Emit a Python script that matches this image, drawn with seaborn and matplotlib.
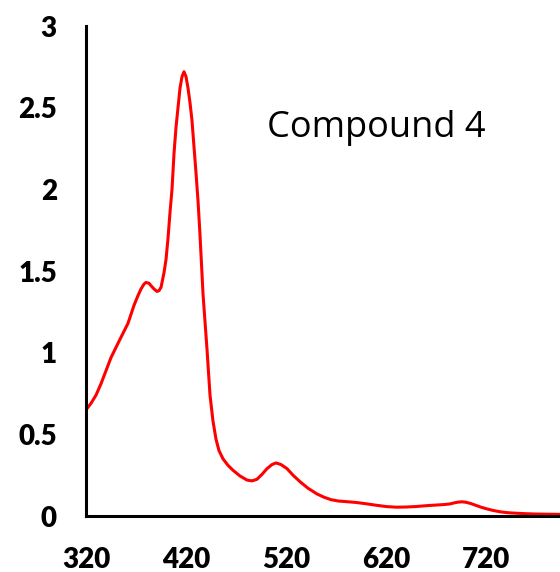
import pandas as pd
import matplotlib.pyplot as plt
import seaborn as sns

# absorption spectrum (wavelength nm, absorbance)
wavelength = [320, 325, 330, 335, 340, 345, 353, 362, 368, 372, 375, 378, 380, 383, 385, 388, 391, 393, 395, 396, 398,
              400, 402, 404, 406, 408, 410, 412, 414, 416, 418, 420, 422, 424, 426, 428, 430, 432, 434, 437, 441,
              444, 447, 450, 453, 457, 462, 467, 474, 481, 486, 491, 496, 501, 506, 510, 515, 521, 527, 534, 542,
              551, 558, 565, 572, 580, 590, 600, 610, 620, 630, 640, 650, 660, 670, 678, 684, 688, 692, 696, 700,
              705, 710, 715, 720, 727, 735, 742, 750, 760, 770, 782, 794]
absorbance = [0.65, 0.69, 0.74, 0.81, 0.89, 0.97, 1.07, 1.18, 1.29, 1.35, 1.39, 1.42, 1.43, 1.425, 1.41, 1.39, 1.375,
              1.38, 1.40, 1.43, 1.49, 1.57, 1.70, 1.86, 2.00, 2.22, 2.38, 2.50, 2.62, 2.69, 2.72, 2.69, 2.62, 2.53,
              2.42, 2.26, 2.10, 1.93, 1.72, 1.36, 1.02, 0.74, 0.58, 0.47, 0.40, 0.35, 0.31, 0.28, 0.245, 0.22, 0.215,
              0.225, 0.255, 0.29, 0.315, 0.325, 0.315, 0.29, 0.25, 0.21, 0.17, 0.135, 0.115, 0.10, 0.092, 0.088,
              0.083, 0.075, 0.066, 0.058, 0.054, 0.055, 0.058, 0.063, 0.067, 0.07, 0.074, 0.08, 0.085, 0.087,
              0.084, 0.076, 0.065, 0.054, 0.045, 0.034, 0.025, 0.02, 0.017, 0.014, 0.012, 0.011, 0.01]
label = 'Compound 4'

df = pd.DataFrame({'nm': wavelength, 'abs': absorbance})

sns.set_style('white')
plt.rcParams['font.family'] = ['Lato', 'DejaVu Sans']

fig = plt.figure(figsize=(5.6, 5.72), dpi=100)
ax = fig.add_axes([0.1536, 0.0979, 0.8464, 0.8566])

sns.lineplot(data=df, x='nm', y='abs', color='#ff0000', linewidth=2.2, ax=ax)

ax.set_xlim(320, 794)
ax.set_ylim(0, 3)
ax.set_xticks([320, 420, 520, 620, 720])
ax.set_yticks([0, 0.5, 1, 1.5, 2, 2.5, 3])
ax.set_yticklabels(['0', '0.5', '1', '1.5', '2', '2.5', '3'])
ax.set_xlabel('')
ax.set_ylabel('')

for side in ['top', 'right']:
    ax.spines[side].set_visible(False)
for side in ['left', 'bottom']:
    ax.spines[side].set_linewidth(2.2)
    ax.spines[side].set_color('black')

ax.tick_params(axis='both', direction='out', length=7, width=2.2, color='black',
               labelcolor='black', labelsize=20)
ax.tick_params(axis='y', pad=14)
ax.tick_params(axis='x', pad=15)
for t in ax.get_xticklabels() + ax.get_yticklabels():
    t.set_fontweight('heavy')

ax.text(0.382, 0.773, label, transform=ax.transAxes, fontsize=26, ha='left', va='baseline',
        color='black', family=['Open Sans', 'DejaVu Sans'])

fig.savefig('out.png', dpi=100)
